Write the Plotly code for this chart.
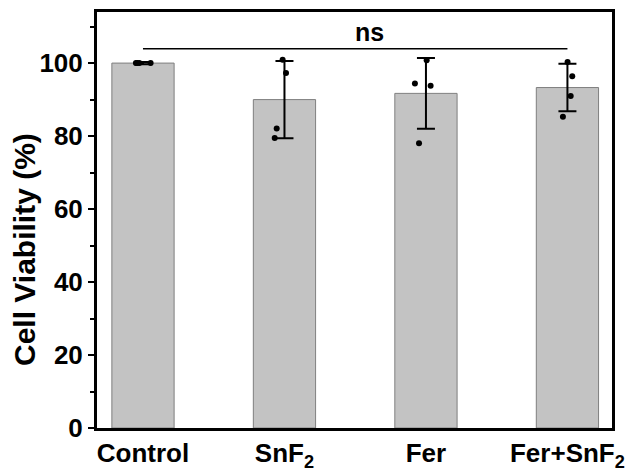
import plotly.graph_objects as go

categories = ["Control", "SnF<sub>2</sub>", "Fer", "Fer+SnF<sub>2</sub>"]
means = [100.0, 90.0, 91.7, 93.3]
sds = [0.3, 10.6, 9.7, 6.5]
points = [
    [100.0, 100.0, 100.0, 100.0],
    [100.9, 97.3, 82.1, 79.5],
    [100.8, 94.4, 93.8, 78.0],
    [100.3, 96.4, 91.0, 85.3],
]
jitter = [
    [-0.05, -0.04, -0.026, 0.054],
    [-0.013, 0.011, -0.055, -0.069],
    [0.005, -0.078, 0.033, -0.049],
    [0.001, 0.034, 0.023, -0.032],
]
y_ticks = [0, 20, 40, 60, 80, 100]
y_title = "Cell Viability (%)"
sig_label = "ns"
sig_y = 103.9

FONT = "Arial, Liberation Sans, sans-serif"
xpos = list(range(len(categories)))

fig = go.Figure()
fig.add_trace(go.Bar(
    x=xpos, y=means, width=0.44,
    marker=dict(color="#c3c3c3", line=dict(color="#7f7f7f", width=1)),
    error_y=dict(type="data", array=sds, visible=True, color="black",
                 thickness=2, width=9),
    showlegend=False,
))
px, py = [], []
for i, (pts, jit) in enumerate(zip(points, jitter)):
    for v, j in zip(pts, jit):
        px.append(i + j)
        py.append(v)
fig.add_trace(go.Scatter(
    x=px, y=py, mode="markers",
    marker=dict(color="black", size=6), showlegend=False,
))

fig.add_shape(type="line", xref="x", yref="y", x0=0, x1=3, y0=sig_y, y1=sig_y,
              line=dict(color="black", width=1.5))
fig.add_annotation(x=1.6, y=108.6, xref="x", yref="y", text="<b>%s</b>" % sig_label,
                   showarrow=False, font=dict(family=FONT, size=25, color="black"))
fig.add_annotation(x=-0.142, y=0.43, xref="paper", yref="paper",
                   text="<b>%s</b>" % y_title, textangle=-90, showarrow=False,
                   xanchor="center", yanchor="middle",
                   font=dict(family=FONT, size=30, color="black"))

fig.update_layout(
    width=632, height=471,
    margin=dict(l=97, r=20, t=12, b=43),
    plot_bgcolor="white", paper_bgcolor="white",
    font=dict(family=FONT, color="black"),
)
fig.update_xaxes(
    range=[-0.325, 3.315], tickvals=xpos,
    ticktext=["<b>%s</b>" % c for c in categories],
    tickfont=dict(family=FONT, size=26, color="black"),
    showgrid=False, zeroline=False, automargin=False,
    showline=True, linecolor="black", linewidth=3, mirror=True,
    ticks="",
)
fig.update_yaxes(
    range=[0, 114], tickvals=y_ticks,
    ticktext=["<b>%d</b>" % t for t in y_ticks],
    tickfont=dict(family=FONT, size=26, color="black"),
    showgrid=False, zeroline=False, automargin=False,
    showline=True, linecolor="black", linewidth=3, mirror=True,
    ticks="outside", ticklen=6, tickwidth=2, tickcolor="black",
    minor=dict(tickvals=[10, 30, 50, 70, 90, 110], ticks="outside", ticklen=4,
               tickwidth=2, tickcolor="black"),
)

fig.write_html("out.html")
